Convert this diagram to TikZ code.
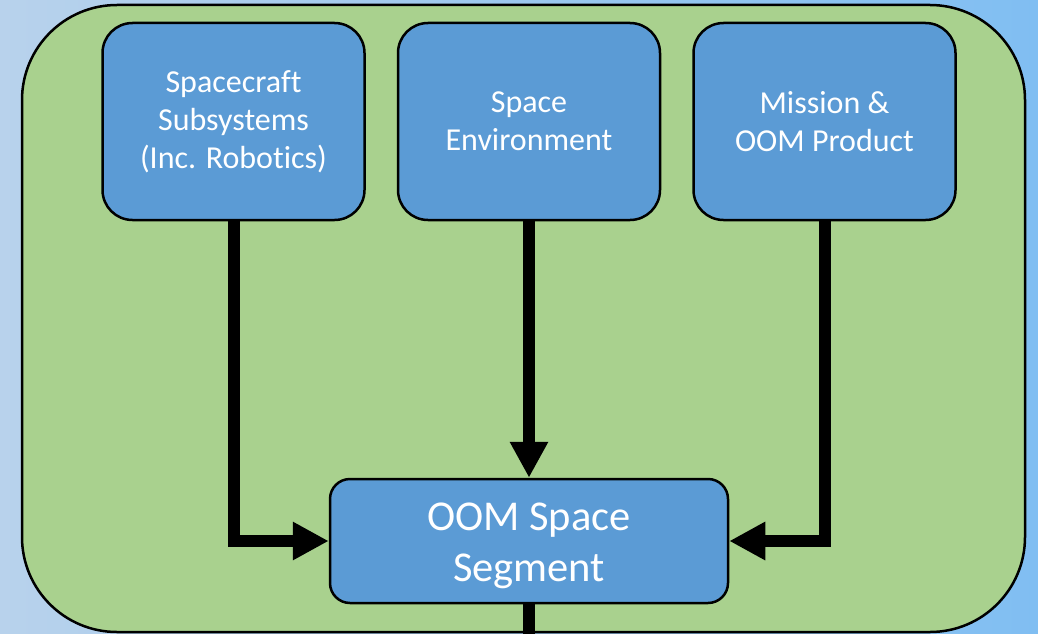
\documentclass[tikz,border=0pt]{standalone}
\usepackage{fontspec}
\setmainfont{Carlito}[Ligatures=NoCommon]
\usetikzlibrary{positioning,arrows.meta}

\definecolor{bgleft}{RGB}{184,210,236}
\definecolor{bgright}{RGB}{128,190,242}
\definecolor{panelgreen}{RGB}{169,209,142}
\definecolor{boxblue}{RGB}{91,155,213}

\begin{document}
\begin{tikzpicture}[
  x=1pt, y=-1pt,
  node distance=31pt,
  topbox/.style={draw, line width=2.5pt, fill=boxblue, rounded corners=30pt, align=center,
    minimum width=262pt, minimum height=197pt, text=white, font=\fontsize{32}{38}\selectfont},
  segbox/.style={draw, line width=2.5pt, fill=boxblue, rounded corners=20pt, align=center,
    minimum width=398pt, minimum height=124pt, text=white, font=\fontsize{42.5}{51}\selectfont},
  arrow/.style={-{Triangle[length=36pt, width=36pt]}, line width=12pt}
]
% background and panel
\shade[left color=bgleft, right color=bgright] (0,0) rectangle (1038,634);
\useasboundingbox (0,0) rectangle (1038,634);
\draw[line width=2.5pt, fill=panelgreen, rounded corners=95pt] (22,5) rectangle (1025,632);

\node[topbox] (env) at (529,121.5) {Space\\Environment};
\node[topbox, left=of env] (subsys) {Spacecraft\\Subsystems\\(Inc. Robotics)};
\node[topbox, right=of env] (mission) {Mission \&\\OOM Product};
\node[segbox] (seg) at (529,541) {\raisebox{-5pt}[\height][\depth]{\begin{tabular}{@{}c@{}}OOM Space\\Segment\end{tabular}}};
\coordinate (out) at (529,640);

\draw[arrow] (subsys.south) |- (seg.west);
\draw[arrow] (env.south) -- (seg.north);
\draw[arrow] (mission.south) |- (seg.east);
\draw[line width=12pt] (seg.south) -- (out);
\end{tikzpicture}
\end{document}
